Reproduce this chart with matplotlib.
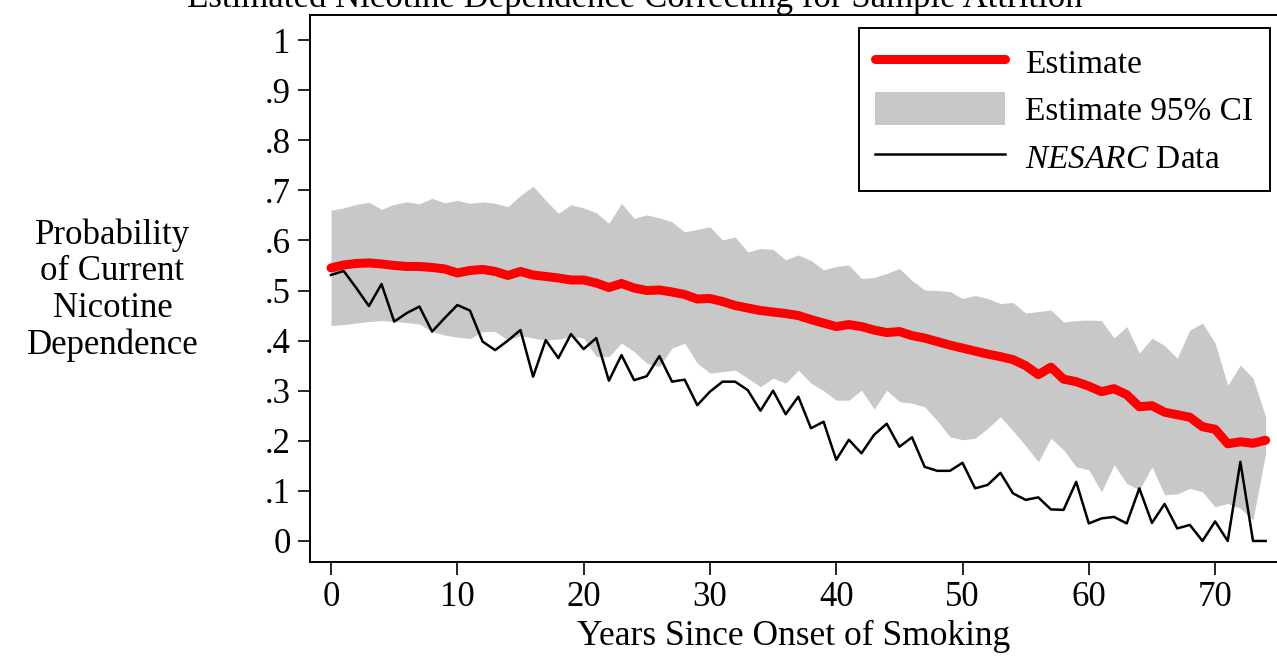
import numpy as np
import matplotlib
matplotlib.use("Agg")
import matplotlib.pyplot as plt

plt.rcParams['font.family'] = ['Liberation Serif', 'DejaVu Serif']
plt.rcParams['mathtext.fontset'] = 'custom'
plt.rcParams['mathtext.rm'] = 'Liberation Serif'
plt.rcParams['mathtext.it'] = 'Liberation Serif:italic'

# years since onset of smoking
years = np.arange(0, 75)

# model estimate
estimate = [
    .545, .551, .554, .555, .553, .550, .548, .548, .546, .543,
    .535, .540, .542, .538, .530, .538, .531, .528, .525, .521,
    .521, .515, .506, .514, .505, .500, .501, .497, .492, .483,
    .484, .478, .470, .465, .460, .457, .454, .450, .442, .435,
    .428, .432, .428, .421, .416, .418, .410, .405, .398, .391,
    .385, .379, .373, .368, .362, .350, .332, .347, .323, .318,
    .309, .298, .304, .292, .268, .270, .257, .252, .247, .228,
    .223, .194, .198, .195, .201]

# 95% CI bounds
ci_upper = [
    .660, .665, .672, .676, .662, .672, .677, .673, .684, .675,
    .680, .674, .677, .674, .667, .690, .708, .680, .654, .671,
    .665, .655, .634, .674, .644, .651, .645, .637, .617, .622,
    .627, .601, .607, .577, .584, .582, .561, .571, .560, .541,
    .548, .551, .524, .526, .534, .544, .520, .501, .500, .498,
    .484, .490, .484, .474, .476, .455, .458, .461, .437, .440,
    .441, .440, .405, .428, .375, .405, .390, .365, .421, .435,
    .395, .311, .351, .325, .248]
ci_lower = [
    .430, .432, .435, .438, .440, .438, .436, .433, .418, .411,
    .407, .404, .418, .418, .401, .410, .405, .401, .403, .408,
    .405, .368, .368, .395, .378, .355, .348, .385, .395, .355,
    .335, .338, .341, .325, .308, .325, .315, .341, .315, .300,
    .281, .281, .301, .263, .301, .278, .275, .268, .240, .208,
    .202, .205, .225, .248, .220, .190, .158, .205, .182, .148,
    .142, .098, .152, .115, .102, .148, .092, .094, .105, .098,
    .068, .075, .065, .042, .175]

# NESARC observed data
nesarc = [
    .531, .539, .505, .469, .513, .438, .455, .468, .418, .445,
    .471, .460, .398, .381, .400, .421, .328, .401, .365, .413,
    .383, .405, .320, .371, .321, .329, .369, .318, .322, .271,
    .298, .318, .318, .301, .260, .300, .253, .288, .225, .238,
    .162, .202, .175, .212, .234, .188, .207, .148, .140, .140,
    .156, .105, .112, .136, .095, .082, .087, .063, .062, .118,
    .035, .045, .048, .035, .105, .036, .074, .025, .032, .000,
    .039, .000, .158, .000, .000]

ytick_vals = np.arange(0, 1.01, 0.1)
ytick_labels = ["0", ".1", ".2", ".3", ".4", ".5", ".6", ".7", ".8", ".9", "1"]
xtick_vals = np.arange(0, 71, 10)

fig = plt.figure(figsize=(12.77, 6.58), dpi=100)
ax = fig.add_axes([0.2428, 0.1459, 0.7572, 0.8313])

ax.fill_between(years, ci_lower, ci_upper, color='#c8c8c8', lw=0,
                label='Estimate 95% CI')
ax.plot(years, estimate, color='#ff0000', lw=6.5, solid_capstyle='round',
        label='Estimate', zorder=3)
ax.plot(years, nesarc, color='black', lw=1.8, label='$\\mathit{NESARC}$ Data',
        zorder=4)

ax.set_xlim(-1.66, 74.9)
ax.set_ylim(-0.042, 1.05)
ax.set_xticks(xtick_vals)
ax.set_yticks(ytick_vals)
ax.set_yticklabels(ytick_labels)
ax.tick_params(axis='both', labelsize=25, length=9, width=1.2)
ax.tick_params(axis='x', pad=5)
ax.tick_params(axis='y', pad=5)
for s in ['left', 'bottom', 'top']:
    ax.spines[s].set_linewidth(1.4)
ax.spines['right'].set_visible(False)

ax.set_xlabel('Years Since Onset of Smoking', fontsize=25.5, labelpad=4)
fig.text(0.088, 0.559, 'Probability\nof Current\nNicotine\nDependence',
         fontsize=25, ha='center', va='center', linespacing=1.15)
fig.text(0.497, 1 - 7 / 658, 'Estimated Nicotine Dependence Correcting for Sample Attrition',
         fontsize=25, ha='center', va='baseline')

handles, labels = ax.get_legend_handles_labels()
order = [1, 0, 2]
leg = ax.legend([handles[i] for i in order], [labels[i] for i in order],
                loc='upper right', bbox_to_anchor=(0.9928, 0.976),
                fontsize=24, frameon=True, fancybox=False, framealpha=1,
                edgecolor='black', handlelength=3.9, handleheight=1.15,
                handletextpad=0.6, labelspacing=0.38, borderpad=0.5,
                borderaxespad=0)
leg.get_frame().set_linewidth(1.4)

fig.savefig('out.png', dpi=100)
